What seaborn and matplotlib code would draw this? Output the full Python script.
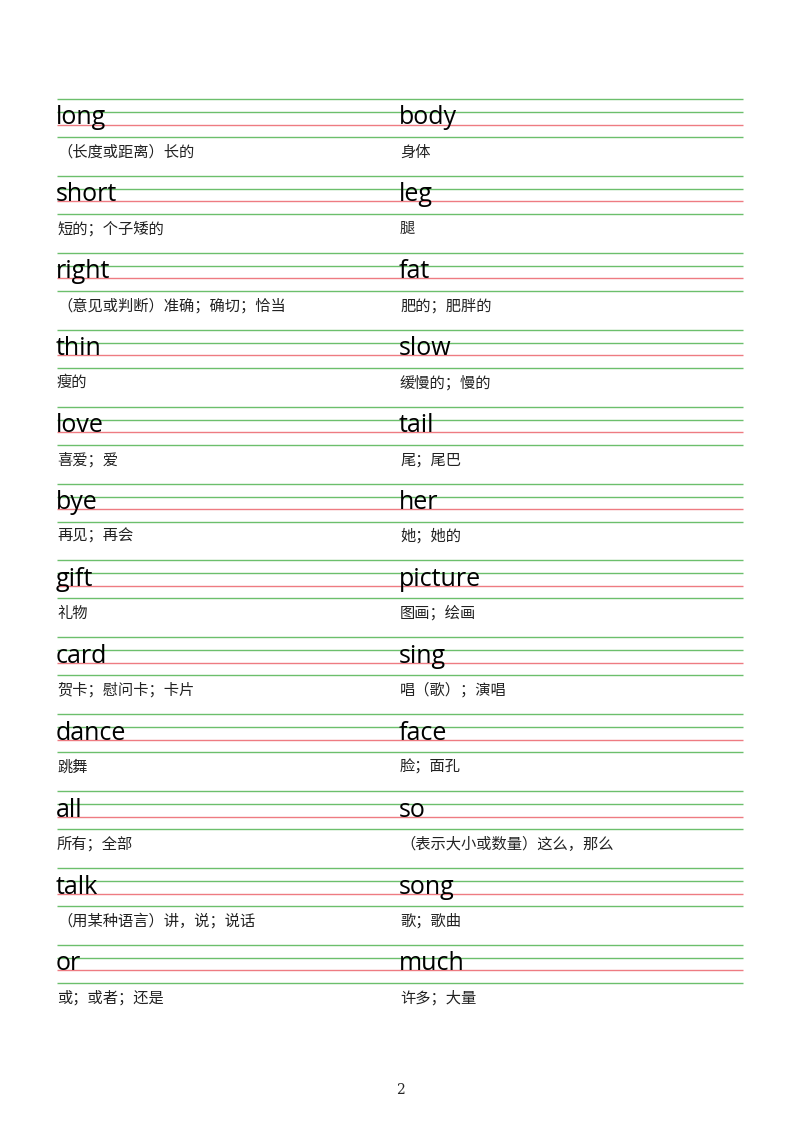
import matplotlib
matplotlib.use("Agg")
import matplotlib.pyplot as plt
import seaborn as sns

left_words = ["long", "short", "right", "thin", "love", "bye", "gift", "card", "dance", "all", "talk", "or"]
left_meanings = ["（长度或距离）长的", "短的；个子矮的", "（意见或判断）准确；确切；恰当", "瘦的", "喜爱；爱",
                 "再见；再会", "礼物", "贺卡；慰问卡；卡片", "跳舞", "所有；全部", "（用某种语言）讲，说；说话", "或；或者；还是"]
right_words = ["body", "leg", "fat", "slow", "tail", "her", "picture", "sing", "face", "so", "song", "much"]
right_meanings = ["身体", "腿", "肥的；肥胖的", "缓慢的；慢的", "尾；尾巴", "她；她的", "图画；绘画",
                  "唱（歌）；演唱", "脸；面孔", "（表示大小或数量）这么，那么", "歌；歌曲", "许多；大量"]

sns.set_style("white")
plt.rcParams['font.family'] = ['Noto Sans CJK SC', 'DejaVu Sans']

fig = plt.figure(figsize=(8, 11.32), dpi=100)
ax = fig.add_axes([0, 0, 1, 1])
ax.set_xlim(0, 800)
ax.set_ylim(1132, 0)
ax.axis('off')

row_top = 99
row_step = 76.9
green = '#6cbf6c'
red = '#ee7b82'
for i in range(len(left_words)):
    y0 = row_top + i * row_step
    ax.hlines([y0, y0 + 13, y0 + 38], 57, 743, colors=green, linewidth=1)
    ax.hlines(y0 + 25.5, 57, 743, colors=red, linewidth=1)
    for x, w, m in [(57, left_words[i], left_meanings[i]), (400, right_words[i], right_meanings[i])]:
        ax.text(x - 1, y0 + 25.5, w, fontsize=18, family='Open Sans', weight='medium',
                va='baseline', color='black')
        ax.text(x, y0 + 53, m, fontsize=11, va='center', color='#222222')

ax.text(400, 1090, "2", fontsize=10, family='DejaVu Serif', ha='center', va='center')
fig.savefig("out.png", dpi=100, facecolor='white')
